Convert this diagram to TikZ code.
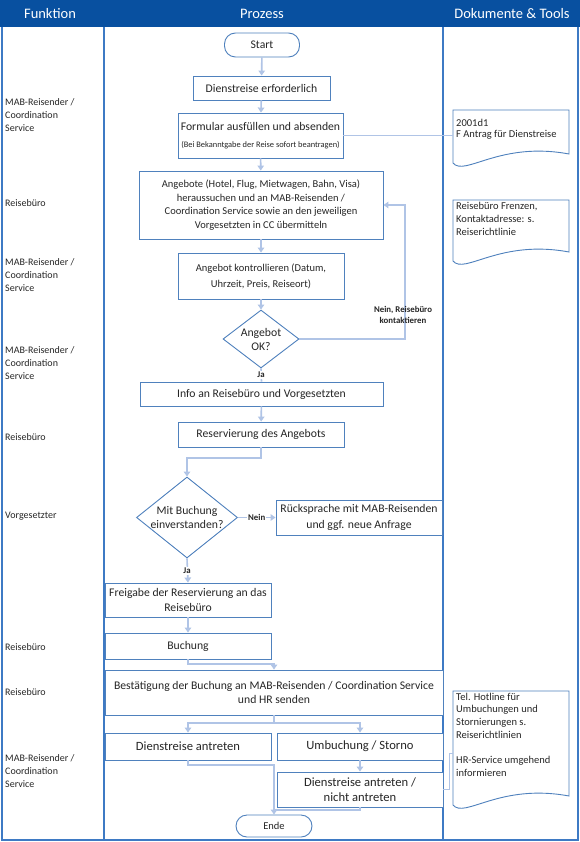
\documentclass[tikz,border=0pt]{standalone}
\usepackage{fontspec}
\setmainfont{Carlito}
\usetikzlibrary{shapes.geometric,arrows.meta,calc}
\definecolor{hdr}{RGB}{8,80,160}
\definecolor{lane}{RGB}{62,122,196}
\definecolor{boxc}{RGB}{79,129,189}
\definecolor{conc}{RGB}{176,196,230}
\definecolor{txt}{RGB}{38,38,38}
\begin{document}
\begin{tikzpicture}[x=1pt,y=-1pt,
  proc/.style={draw=boxc, line width=0.9pt, fill=white, text=txt, align=center,
    font=\fontsize{11.7}{15}\selectfont, inner sep=0pt},
  smallf/.style={font=\fontsize{10.5}{13.5}\selectfont},
  bigf/.style={font=\fontsize{12.6}{15.5}\selectfont},
  term/.style={proc, rounded corners=11pt},
  dec/.style={diamond, draw=boxc, line width=0.9pt, fill=white, text=txt, align=center,
    inner sep=0pt, font=\fontsize{11.7}{14}\selectfont},
  conn/.style={draw=conc, line width=1.6pt, -{Triangle[width=6.5pt,length=5pt]}},
  cline/.style={draw=conc, line width=1.6pt},
  thinc/.style={draw=conc, line width=0.9pt},
  lbl/.style={font=\bfseries\fontsize{8.8}{10.5}\selectfont, text=txt, align=center, inner sep=1pt},
  fn/.style={anchor=west, align=left, text=txt, font=\fontsize{10}{13}\selectfont, inner sep=0pt},
  doctext/.style={anchor=north west, align=left, text=txt, font=\fontsize{10.5}{13.2}\selectfont, inner sep=0pt},
  docshape/.style={draw=boxc, line width=0.9pt, fill=white},
  hd/.style={text=white, font=\fontsize{14.5}{16}\selectfont}
]
\useasboundingbox (0,0) rectangle (580,842);
\fill[white] (0,0) rectangle (580,842);
% header
\fill[hdr] (0,0) rectangle (580,27);
\node[hd] (h1) at (50,14) {Funktion};
\node[hd] (h2) at (262,14) {Prozess};
\node[hd] (h3) at (512,14) {Dokumente \& Tools};
% lanes
\draw[lane, line width=2pt] (2,27) -- (2,840) -- (578,840) -- (578,27);
\draw[lane, line width=2pt] (104,27) -- (104,840);
\draw[lane, line width=2pt] (443,27) -- (443,840);

% function labels
\node[fn] (f1) at (5,115) {MAB-Reisender /\\Coordination\\Service};
\node[fn] (f2) at (5,203) {Reisebüro};
\node[fn] (f3) at (5,275) {MAB-Reisender /\\Coordination\\Service};
\node[fn] (f4) at (5,363) {MAB-Reisender /\\Coordination\\Service};
\node[fn] (f5) at (5,437) {Reisebüro};
\node[fn] (f6) at (5,516) {Vorgesetzter};
\node[fn] (f7) at (5,647) {Reisebüro};
\node[fn] (f8) at (5,692) {Reisebüro};
\node[fn] (f9) at (5,771) {MAB-Reisender /\\Coordination\\Service};

% process nodes
\node[term, minimum width=75pt, minimum height=24pt] (start) at (262,45) {Start};
\node[proc, minimum width=137pt, minimum height=24pt] (n1) at (261.5,88) {Dienstreise erforderlich};
\node[proc, minimum width=165pt, minimum height=45pt] (n2) at (260.5,135.5)
  {Formular ausfüllen und absenden\\[1.5pt]{\fontsize{8.4}{10}\selectfont (Bei Bekanntgabe der Reise sofort beantragen)}};
\node[proc, smallf, minimum width=244pt, minimum height=68pt] (n3) at (261,205)
  {Angebote (Hotel, Flug, Mietwagen, Bahn, Visa)\\heraussuchen und an MAB-Reisenden /\\Coordination Service sowie an den jeweiligen\\Vorgesetzten in CC übermitteln};
\node[proc, font=\fontsize{10.5}{16}\selectfont, minimum width=166pt, minimum height=46pt] (n4) at (261,276)
  {Angebot kontrollieren (Datum,\\Uhrzeit, Preis, Reiseort)};
\node[dec, minimum width=76pt, minimum height=58pt, aspect=1.31] (d1) at (261,339) {Angebot\\OK?};
\node[proc, minimum width=243pt, minimum height=24pt] (n5) at (261.5,394) {Info an Reisebüro und Vorgesetzten};
\node[proc, minimum width=166pt, minimum height=25pt] (n6) at (261,434.5) {Reservierung des Angebots};
\node[dec, minimum width=101pt, minimum height=81pt, aspect=1.25] (d2) at (187,517.5) {Mit Buchung\\einverstanden?};
\node[proc, font=\fontsize{11.7}{16}\selectfont, minimum width=166pt, minimum height=35pt] (n7) at (359,517.5)
  {Rücksprache mit MAB-Reisenden\\und ggf. neue Anfrage};
\node[proc, minimum width=166pt, minimum height=34pt] (n8) at (188,600)
  {Freigabe der Reservierung an das\\Reisebüro};
\node[proc, minimum width=166pt, minimum height=26pt] (n9) at (188,646) {Buchung};
\node[proc, font=\fontsize{11.7}{14}\selectfont, minimum width=338pt, minimum height=45pt] (n10) at (274,692.5)
  {Bestätigung der Buchung an MAB-Reisenden / Coordination Service\\und HR senden};
\node[proc, bigf, minimum width=166pt, minimum height=27pt] (n11) at (188,746.5) {Dienstreise antreten};
\node[proc, bigf, minimum width=166pt, minimum height=27pt] (n12) at (360,746.5) {Umbuchung / Storno};
\node[proc, bigf, minimum width=166pt, minimum height=35pt] (n13) at (360,789.5)
  {Dienstreise antreten /\\nicht antreten};
\node[term, smallf, minimum width=76pt, minimum height=22pt] (ende) at (274,826) {Ende};

% documents
\draw[docshape] (453,163) -- (453,110) -- (569,110) -- (569,154)
  .. controls (499.4,141) and (464.6,177) .. (453,163) -- cycle;
\node[doctext, font=\fontsize{10.5}{11.5}\selectfont] (doc1) at (456,119) {2001d1\\F Antrag für Dienstreise};
\draw[docshape] (453,261) -- (453,200) -- (569,200) -- (569,252)
  .. controls (499.4,239) and (464.6,275) .. (453,261) -- cycle;
\node[doctext] (doc2) at (456,202) {Reisebüro Frenzen,\\Kontaktadresse: s.\\Reiserichtlinie};
\draw[docshape] (453,805) -- (453,691) -- (569,691) -- (569,796)
  .. controls (499.4,783) and (464.6,819) .. (453,805) -- cycle;
\node[doctext, font=\fontsize{10.5}{12.7}\selectfont] (doc3) at (456,692.5) {Tel. Hotline für\\Umbuchungen und\\Stornierungen s.\\Reiserichtlinien\\[12.7pt]HR-Service umgehend\\informieren};

% coordinates for connectors
\coordinate (doc1w) at (453,135.5);
\coordinate (loop) at (405,339);
\coordinate (r1) at (261,458);
\coordinate (b1) at (274,664);
\coordinate (s1) at (274,723);
\coordinate (m1) at (188,765);
\coordinate (m2) at (274,810);
\coordinate (k1) at (449,789.5);
\coordinate (k2) at (449,753);
\coordinate (doc3w) at (453,753);

% connectors
\draw[conn] (start) -- (n1);
\draw[conn] (n1) -- (n2);
\draw[conn] (n2) -- (n3);
\draw[conn] (n3) -- (n4);
\draw[conn] (n4) -- (d1);
\draw[conn] (d1.east) -- (loop) |- (n3.east);
\node[lbl] (lnein1) at (403,315) {Nein, Reisebüro\\kontaktieren};
\draw[cline] (d1.south) -- (n5.north);
\node[lbl, fill=white] (lja1) at (261,375) {Ja};
\draw[conn] (n5) -- (n6);
\draw[conn] (n6.south) -- (r1) -| (d2.north);
\draw[conn] (d2.east) -- node[lbl, fill=white] (lnein2) {Nein} (n7.west);
\draw[conn] (d2.south) -- (n8.north);
\node[lbl, fill=white] (lja2) at (187,571) {Ja};
\draw[conn] (n8) -- (n9);
\draw[conn] (n9.south) |- (b1) -- (n10.north);
\draw[cline] (n10.south) -- (s1);
\draw[conn] (s1) -| (n11.north);
\draw[conn] (s1) -| (n12.north);
\draw[conn] (n12) -- (n13);
\draw[cline] (n13.south) |- (m2);
\draw[conn] (n11.south) |- (m1) -| (ende.north);
\draw[thinc] (n2.east) -- (doc1w);
\draw[thinc] (n13.east) -- (k1) -- (k2) -- (doc3w);
\end{tikzpicture}
\end{document}
